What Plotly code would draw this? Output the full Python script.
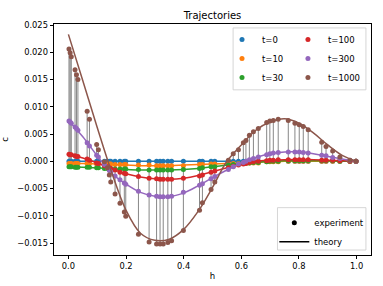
import plotly.graph_objects as go

# ---------------- data ----------------
TIME_LABELS = ["t=0", "t=10", "t=30", "t=100", "t=300", "t=1000"]
COLORS = ["#1f77b4", "#ff7f0e", "#2ca02c", "#d62728", "#9467bd", "#8c564b"]

# sample positions of the experiment
H_EXP = [0.002, 0.006, 0.010, 0.023, 0.028, 0.033, 0.065, 0.073, 0.098, 0.104,
         0.125, 0.135, 0.142, 0.147, 0.162, 0.179, 0.194, 0.199, 0.243, 0.280,
         0.306, 0.318, 0.329, 0.345, 0.358, 0.399, 0.455, 0.465, 0.495, 0.508,
         0.555, 0.572, 0.590, 0.607, 0.616, 0.628, 0.642, 0.659, 0.688, 0.699,
         0.711, 0.728, 0.763, 0.786, 0.801, 0.815, 0.832, 0.879, 0.894, 0.917,
         0.942, 0.977, 0.998]

EXP_T0 = [0.0, 0.0, 0.0, 0.0, 0.0, 0.0, 0.0, 0.0, 0.0, 0.0,
          0.0, 0.0, 0.0, 0.0, 0.0, 0.0, 0.0, 0.0, 0.0, 0.0,
          0.0, 0.0, 0.0, 0.0, 0.0, 0.0, 0.0, 0.0, 0.0, 0.0,
          0.0, 0.0, 0.0, 0.0, 0.0, 0.0, 0.0, 0.0, 0.0, 0.0,
          0.0, 0.0, 0.0, 0.0, 0.0, 0.0, 0.0, 0.0, 0.0, 0.0,
          0.0, 0.0, 0.0]

EXP_T10 = [-0.0004, -0.0004, -0.0004, -0.0004, -0.0004, -0.0004, -0.0004, -0.0004, -0.0005, -0.0005,
           -0.0005, -0.0005, -0.0005, -0.0005, -0.0006, -0.0006, -0.0006, -0.0006, -0.0007, -0.0007,
           -0.0008, -0.0008, -0.0008, -0.0008, -0.0008, -0.0008, -0.0006, -0.0006, -0.0005, -0.0005,
           -0.0004, -0.0004, -0.0004, -0.0003, -0.0003, -0.0003, -0.0003, -0.0003, -0.0001, -0.0001,
           -0.0001, -0.0001, 0.0, 0.0, 0.0, 0.0, 0.0, 0.0, 0.0, 0.0,
           0.0, 0.0, 0.0]

EXP_T30 = [-0.0010, -0.0010, -0.0010, -0.0011, -0.0011, -0.0011, -0.0011, -0.0011, -0.0012, -0.0012,
           -0.0013, -0.0013, -0.0013, -0.0013, -0.0014, -0.0014, -0.0014, -0.0014, -0.0015, -0.0016,
           -0.0016, -0.0016, -0.0016, -0.0016, -0.0016, -0.0015, -0.0013, -0.0012, -0.0010, -0.0010,
           -0.0007, -0.0006, -0.0005, -0.0004, -0.0003, -0.0003, -0.0002, -0.0002, -0.0001, 0.0,
           0.0, 0.0, 0.0001, 0.0001, 0.0001, 0.0001, 0.0001, 0.0001, 0.0001, 0.0001,
           0.0, 0.0, 0.0]

EXP_T100 = [0.0013, 0.0012, 0.0012, 0.0010, 0.0009, 0.0009, 0.0004, 0.0002, -0.0003, -0.0004,
            -0.0008, -0.0010, -0.0012, -0.0013, -0.0016, -0.0020, -0.0022, -0.0023, -0.0028, -0.0031,
            -0.0032, -0.0033, -0.0033, -0.0033, -0.0033, -0.0031, -0.0027, -0.0025, -0.0020, -0.0018,
            -0.0012, -0.0009, -0.0007, -0.0005, -0.0004, -0.0002, -0.0001, 0.0, 0.0001, 0.0002,
            0.0002, 0.0003, 0.0003, 0.0003, 0.0003, 0.0003, 0.0003, 0.0002, 0.0002, 0.0002,
            0.0001, 0.0, 0.0]

EXP_T300 = [0.0074, 0.0072, 0.0070, 0.0063, 0.0060, 0.0057, 0.0034, 0.0028, 0.0011, 0.0008,
            -0.0006, -0.0012, -0.0017, -0.0020, -0.0027, -0.0034, -0.0040, -0.0042, -0.0055, -0.0062,
            -0.0064, -0.0065, -0.0065, -0.0065, -0.0064, -0.0057, -0.0044, -0.0041, -0.0032, -0.0028,
            -0.0015, -0.0010, -0.0005, -0.0002, 0.0, 0.0003, 0.0005, 0.0008, 0.0012, 0.0014,
            0.0015, 0.0016, 0.0017, 0.0017, 0.0017, 0.0016, 0.0015, 0.0011, 0.0010, 0.0007,
            0.0005, 0.0002, 0.0]

EXP_T1000 = [0.0206, 0.0199, 0.0192, 0.0168, 0.0159, 0.0150, 0.0092, 0.0077, 0.0031, 0.0021,
             -0.0001, -0.0012, -0.0025, -0.0038, -0.0060, -0.0077, -0.0093, -0.0101, -0.0134, -0.0148,
             -0.0152, -0.0152, -0.0152, -0.0149, -0.0146, -0.0127, -0.0090, -0.0076, -0.0052, -0.0038,
             0.0002, 0.0014, 0.0021, 0.0034, 0.0038, 0.0048, 0.0054, 0.0060, 0.0071, 0.0074,
             0.0075, 0.0077, 0.0075, 0.0070, 0.0067, 0.0064, 0.0058, 0.0035, 0.0027, 0.0019,
             0.0008, 0.0002, 0.0]

# theory curves
H_TH = [0.0, 0.05, 0.10, 0.15, 0.20, 0.25, 0.30, 0.35, 0.40, 0.45, 0.50,
        0.55, 0.60, 0.65, 0.70, 0.75, 0.80, 0.85, 0.90, 0.95, 1.0]
TH_T0 = [0.0, 0.0, 0.0, 0.0, 0.0, 0.0, 0.0, 0.0, 0.0, 0.0, 0.0,
         0.0, 0.0, 0.0, 0.0, 0.0, 0.0, 0.0, 0.0, 0.0, 0.0]
TH_T10 = [-0.0004, -0.0004, -0.0005, -0.0006, -0.0007, -0.0008, -0.0008, -0.0008, -0.0007, -0.0006, -0.0005,
          -0.0004, -0.0003, -0.0002, -0.0001, 0.0, 0.0, 0.0, 0.0, 0.0, 0.0]
TH_T30 = [-0.0010, -0.0011, -0.0012, -0.0014, -0.0015, -0.0016, -0.0016, -0.0016, -0.0015, -0.0013, -0.0010,
          -0.0007, -0.0004, -0.0002, 0.0, 0.0001, 0.0001, 0.0001, 0.0001, 0.0, 0.0]
TH_T100 = [0.0013, 0.0006, -0.0003, -0.0014, -0.0023, -0.0029, -0.0032, -0.0033, -0.0031, -0.0026, -0.0019,
           -0.0012, -0.0005, 0.0, 0.0002, 0.0003, 0.0003, 0.0003, 0.0002, 0.0001, 0.0]
TH_T300 = [0.0075, 0.0045, 0.0010, -0.0022, -0.0042, -0.0057, -0.0064, -0.0065, -0.0058, -0.0045, -0.0030,
           -0.0016, -0.0003, 0.0007, 0.0014, 0.0017, 0.0017, 0.0014, 0.0009, 0.0004, 0.0]
TH_T1000 = [0.0233, 0.0148, 0.0062, -0.0020, -0.0090, -0.0132, -0.0145, -0.0143, -0.0125, -0.0092, -0.0048,
            0.0, 0.0030, 0.0057, 0.0072, 0.0078, 0.0070, 0.0052, 0.0030, 0.0011, 0.0]

X_TICKS = [0.0, 0.2, 0.4, 0.6, 0.8, 1.0]
Y_TICKS = [-0.015, -0.010, -0.005, 0.000, 0.005, 0.010, 0.015, 0.020, 0.025]

EXP = [EXP_T0, EXP_T10, EXP_T30, EXP_T100, EXP_T300, EXP_T1000]
THEORY = [TH_T0, TH_T10, TH_T30, TH_T100, TH_T300, TH_T1000]
LEGEND_OF = ["legend", "legend", "legend", "legend2", "legend2", "legend2"]

FONT = "DejaVu Sans"

fig = go.Figure()

# vertical lines spanning all times at each sample position
vx, vy = [], []
for i, h in enumerate(H_EXP):
    vals = [series[i] for series in EXP]
    vx += [h, h, None]
    vy += [min(vals), max(vals), None]
fig.add_trace(go.Scatter(x=vx, y=vy, mode="lines",
                         line=dict(color="rgba(0,0,0,0.6)", width=0.8),
                         showlegend=False, hoverinfo="skip"))

for lab, col, ex, th, lg in zip(TIME_LABELS, COLORS, EXP, THEORY, LEGEND_OF):
    fig.add_trace(go.Scatter(x=H_TH, y=th, mode="lines",
                             line=dict(color=col, width=1.5, shape="spline", smoothing=1.0),
                             showlegend=False))
    fig.add_trace(go.Scatter(x=H_EXP, y=ex, mode="markers", name=lab,
                             marker=dict(color=col, size=5),
                             legend=lg))

# legend for the marker / line meaning
fig.add_trace(go.Scatter(x=[None], y=[None], mode="markers", name="experiment",
                         marker=dict(color="black", size=5), legend="legend3"))
fig.add_trace(go.Scatter(x=[None], y=[None], mode="lines", name="theory",
                         line=dict(color="black", width=1.5), legend="legend3"))

axis_common = dict(showline=True, linecolor="black", linewidth=0.8, mirror=True,
                   ticks="outside", ticklen=3.5, tickwidth=0.8, tickcolor="black",
                   showgrid=False, zeroline=False, automargin=False,
                   tickfont=dict(family=FONT, size=8.3, color="black"))

legend_common = dict(bgcolor="rgba(0,0,0,0)", borderwidth=0,
                     font=dict(family=FONT, size=8.5, color="black"),
                     xanchor="left", tracegroupgap=0, itemwidth=30)

box_style = dict(type="rect", xref="paper", yref="paper",
                 fillcolor="rgba(255,255,255,0.8)",
                 line=dict(color="#cccccc", width=0.8), layer="above")

fig.update_layout(
    template="none",
    width=383, height=286,
    margin=dict(l=54, r=12, t=24, b=31, autoexpand=False),
    paper_bgcolor="white", plot_bgcolor="white",
    font=dict(family=FONT, size=8.3, color="black"),
    title=dict(text="Trajectories", x=0.5, xref="paper", xanchor="center",
               y=(286 - 15.5) / 286, yref="container", yanchor="middle",
               font=dict(family=FONT, size=10, color="black")),
    xaxis=dict(range=[-0.05, 1.05], tickvals=X_TICKS, tickformat=".1f",
               title=dict(text="h", standoff=2, font=dict(family=FONT, size=8.5)),
               **axis_common),
    yaxis=dict(range=[-0.0172, 0.0252], tickvals=Y_TICKS, tickformat=".3f",
               title=dict(text="c", standoff=10, font=dict(family=FONT, size=8.5)),
               **axis_common),
    legend=dict(x=0.53, y=0.996, yanchor="top", **legend_common),
    legend2=dict(x=0.738, y=0.996, yanchor="top", **legend_common),
    legend3=dict(x=0.695, y=-0.005, yanchor="bottom", **legend_common),
    shapes=[dict(x0=0.565, x1=0.984, y0=0.715, y1=0.983, **box_style),
            dict(x0=0.705, x1=0.984, y0=0.0216, y1=0.205, **box_style)],
    showlegend=True,
)

fig.write_html("out.html", config={"displayModeBar": False},
               post_script="document.body.style.margin='0';document.body.style.padding='0';")
